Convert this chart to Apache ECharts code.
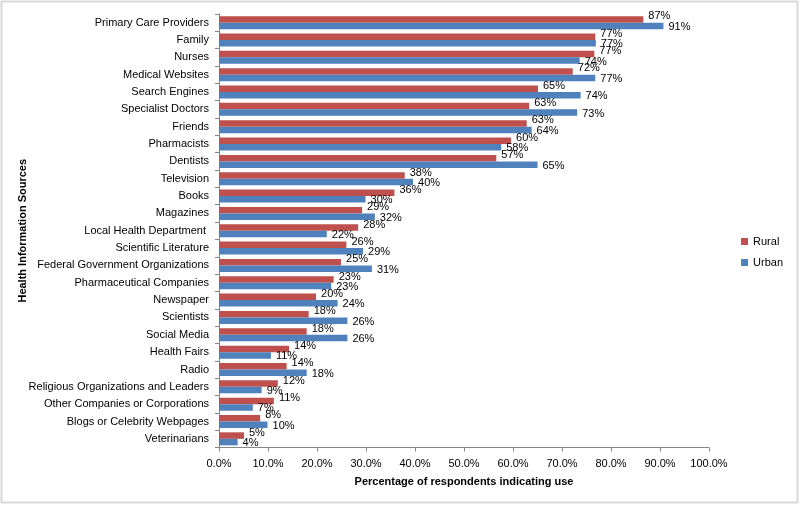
<!DOCTYPE html>
<html><head><meta charset="utf-8">
<script src="https://cdn.jsdelivr.net/npm/echarts@6/dist/echarts.min.js"></script>
<style>html,body{margin:0;padding:0;background:#fff}#c{width:800px;height:505px}</style>
</head><body><div id="c"></div>
<script>
const categories = ["Primary Care Providers","Family","Nurses","Medical Websites","Search Engines","Specialist Doctors","Friends","Pharmacists","Dentists","Television","Books","Magazines","Local Health Department ","Scientific Literature","Federal Government Organizations","Pharmaceutical Companies","Newspaper","Scientists","Social Media","Health Fairs","Radio","Religious Organizations and Leaders","Other Companies or Corporations","Blogs or Celebrity Webpages","Veterinarians"];
const rural = [86.6,76.8,76.6,72.2,65.1,63.3,62.8,59.6,56.6,37.9,35.8,29.2,28.4,26.0,24.9,23.4,19.8,18.3,17.9,14.3,13.8,12.0,11.2,8.4,5.1];
const urban = [90.7,76.9,73.6,76.8,73.8,73.1,63.8,57.6,65.0,39.6,29.9,31.8,22.0,29.4,31.2,22.9,24.2,26.2,26.2,10.6,17.9,8.7,6.9,9.9,3.8];
const xTicks = [0,10,20,30,40,50,60,70,80,90,100];

const FONT = "Liberation Sans";
const chart = echarts.init(document.getElementById('c'), null, {renderer:'canvas'});
function lbl(off){
  return {show:true, position:'right', distance:5, offset:[0,off], color:'#000', fontFamily:FONT, fontSize:11,
          formatter: p => Math.round(p.value) + '%'};
}
chart.setOption({
  animation:false,
  textStyle:{fontFamily:FONT},
  graphic:[{type:'rect', shape:{x:1.5,y:1.5,width:796,height:501}, style:{fill:'none', stroke:'#D9D9D9', lineWidth:2}, silent:true}],
  grid:{left:219, right:91, top:14, bottom:57.5, containLabel:false},
  legend:{orient:'vertical', right:17, top:236, padding:0, itemWidth:7, itemHeight:7, itemGap:10,
          textStyle:{fontFamily:FONT, fontSize:11, color:'#000'}, data:['Rural','Urban'], icon:'rect'},
  xAxis:{type:'value', min:xTicks[0], max:xTicks[xTicks.length-1], interval:10,
    axisLine:{show:true, lineStyle:{color:'#868686'}}, axisTick:{show:true, length:4, lineStyle:{color:'#868686'}},
    splitLine:{show:false},
    axisLabel:{color:'#000', fontFamily:FONT, fontSize:11, margin:11, formatter:v => v.toFixed(1) + '%'},
    name:'Percentage of respondents indicating use', nameLocation:'middle', nameGap:29, nameMoveOverlap:false,
    nameTextStyle:{fontFamily:FONT, fontSize:11, fontWeight:'bold', color:'#000'}},
  yAxis:{type:'category', data:categories, inverse:true,
    axisLine:{show:true, lineStyle:{color:'#868686'}}, axisTick:{show:true, length:4, lineStyle:{color:'#868686'}},
    axisLabel:{color:'#000', fontFamily:FONT, fontSize:11, margin:10},
    name:'Health Information Sources', nameLocation:'middle', nameGap:191, nameRotate:90, nameMoveOverlap:false,
    nameTextStyle:{fontFamily:FONT, fontSize:11, fontWeight:'bold', color:'#000'}},
  series:[
    {name:'Rural', type:'bar', data:rural, barGap:'0%', barCategoryGap:'25%', itemStyle:{color:'#C0504D'}, label:lbl(-3)},
    {name:'Urban', type:'bar', data:urban, barGap:'0%', barCategoryGap:'25%', itemStyle:{color:'#4F81BD'}, label:lbl(1)}
  ]
});
</script></body></html>
